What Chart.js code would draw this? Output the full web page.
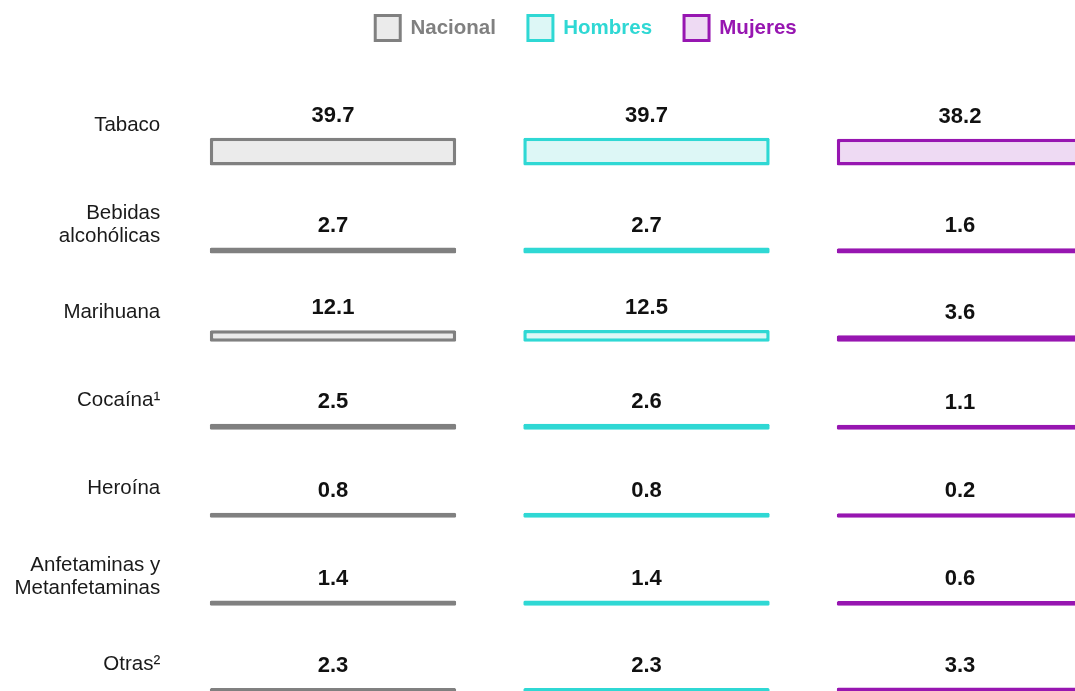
<!DOCTYPE html>
<html><head><meta charset="utf-8">
<script src="https://cdn.jsdelivr.net/npm/chart.js@4.4.1/dist/chart.umd.min.js"></script>
<style>
html,body{margin:0;padding:0;overflow:hidden;background:#fff;width:1075px;height:691px;}
#wrap{position:absolute;left:0;top:0;width:1172px;height:754px;}
</style></head><body>
<div id="wrap"><canvas id="c"></canvas></div>
<script>
// ---- data ----
const seriesNames = ['Nacional', 'Hombres', 'Mujeres'];
const substances = [['Tabaco', ''], ['Bebidas', 'alcohólicas'], 'Marihuana', 'Cocaína¹', 'Heroína', ['Anfetaminas y', 'Metanfetaminas'], 'Otras²'];
const nacional = [39.7, 2.7, 12.1, 2.5, 0.8, 1.4, 2.3];
const hombres  = [39.7, 2.7, 12.5, 2.6, 0.8, 1.4, 2.3];
const mujeres  = [38.2, 1.6, 3.6, 1.1, 0.2, 0.6, 3.3];

// ---- style ----
const borderColors = ['#808080', '#2fd8d4', '#9716b1'];
const fillColors   = ['#ebebeb', '#ddf7f6', '#eedaf3'];
const ROW = 150;          // value units per row band
const BASE_FRAC = 0.83;   // baseline position inside row band
const PAD = 7.5;          // extra bar thickness (value units)
const FONT = '"Liberation Sans", Arial, Helvetica, sans-serif';

function buildData(values, col) {
  return values.map((v, i) => {
    const base = (i + BASE_FRAC) * ROW;
    return { x: seriesNames[col], y: [base, base - v - PAD] };
  });
}

const valueLabels = {
  id: 'valueLabels',
  afterDatasetsDraw(chart) {
    const ctx = chart.ctx;
    ctx.save();
    ctx.font = 'bold 22px ' + FONT;
    ctx.fillStyle = '#111111';
    ctx.textAlign = 'center';
    ctx.textBaseline = 'middle';
    chart.data.datasets.forEach((ds, di) => {
      const meta = chart.getDatasetMeta(di);
      meta.data.forEach((el, j) => {
        const p = el.getProps(['x', 'y', 'base'], true);
        const top = Math.min(p.y, p.base);
        ctx.fillText(ds.rawValues[j].toFixed(1), p.x, top - 22);
      });
    });
    ctx.restore();
  }
};

const allSeries = [nacional, hombres, mujeres];

new Chart(document.getElementById('c'), {
  type: 'bar',
  data: {
    datasets: allSeries.map((vals, k) => ({
      label: seriesNames[k],
      data: buildData(vals, k),
      rawValues: vals,
      backgroundColor: fillColors[k],
      borderColor: borderColors[k],
      borderWidth: 3.5,
      borderSkipped: false,
      borderRadius: 1.5,
      inflateAmount: 0,
      xAxisID: 'x',
      yAxisID: 'y'
    }))
  },
  options: {
    responsive: true,
    maintainAspectRatio: false,
    animation: false,
    grouped: false,
    barPercentage: 0.786,
    categoryPercentage: 1,
    layout: { padding: { top: -16.5, left: 0, right: 0, bottom: 45.25 } },
    plugins: {
      tooltip: { enabled: false },
      legend: {
        position: 'top',
        labels: {
          boxWidth: 25,
          boxHeight: 25,
          padding: 32,
          font: { family: FONT, size: 20.5, weight: 'bold' },
          generateLabels(chart) {
            const items = Chart.defaults.plugins.legend.labels.generateLabels(chart);
            items.forEach((it, i) => { it.fontColor = borderColors[i]; it.lineWidth = 3; });
            return items;
          }
        }
      }
    },
    scales: {
      x: {
        type: 'category',
        labels: seriesNames,
        position: 'top',
        offset: true,
        grid: { display: false },
        border: { display: false },
        ticks: { display: false },
        afterFit(s) { s.height = 42; }
      },
      yLab: {
        type: 'category',
        axis: 'y',
        labels: substances,
        position: 'left',
        offset: true,
        grid: { display: false },
        border: { display: false },
        ticks: {
          padding: 8,
          color: '#1a1a1a',
          font: { family: FONT, size: 20.5, lineHeight: 1.12 }
        },
        afterFit(s) { s.width = 176.25; }
      },
      y: {
        type: 'linear',
        position: 'right',
        reverse: true,
        min: 0,
        max: substances.length * ROW,
        grid: { display: false },
        border: { display: false },
        ticks: { display: false },
        afterFit(s) { s.width = 55.25; }
      }
    }
  },
  plugins: [valueLabels]
});
</script>
</body></html>
